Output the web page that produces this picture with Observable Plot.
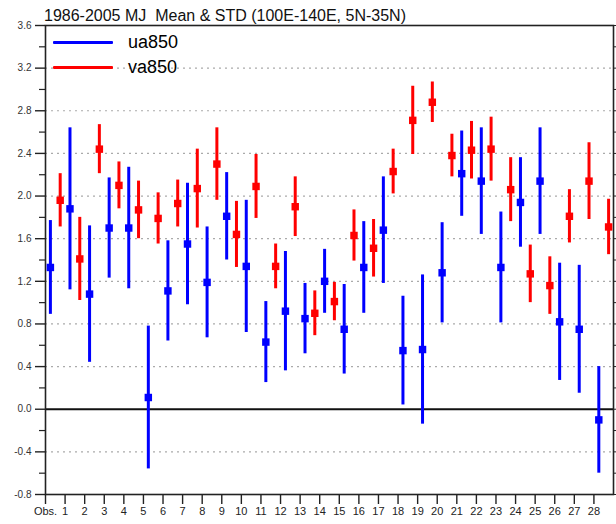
<!DOCTYPE html>
<html>
<head>
<meta charset="utf-8">
<script src="https://cdn.jsdelivr.net/npm/d3@7"></script>
<script src="https://cdn.jsdelivr.net/npm/@observablehq/plot@0.6"></script>
<style>
  body { margin: 0; background: #fff; }
  #wrap { position: relative; width: 616px; height: 524px; }
  .ttl { position: absolute; left: 44px; top: 7px; font-family: "Liberation Sans", Arial, Helvetica, sans-serif; font-size: 16px; line-height: 17px; color: #111; white-space: pre; }
  .leg { position: absolute; font-family: "Liberation Sans", Arial, Helvetica, sans-serif; font-size: 18px; color: #000; }
  .leg .row { position: relative; height: 25px; }
  .leg .sw { position: absolute; left: 0; top: 11px; width: 60px; height: 3px; border-radius: 1px; }
  .leg .lab { position: absolute; left: 75px; top: 2px; line-height: 20px; }
</style>
</head>
<body>
<div id="wrap"></div>
<script>
// ---- data ----
const models = ["Obs.", "1", "2", "3", "4", "5", "6", "7", "8", "9", "10", "11", "12", "13", "14",
  "15", "16", "17", "18", "19", "20", "21", "22", "23", "24", "25", "26", "27", "28"];

const uaMean = [1.33, 1.88, 1.08, 1.70, 1.70, 0.11, 1.11, 1.55, 1.19, 1.81, 1.34, 0.63, 0.92, 0.85, 1.20,
  0.75, 1.33, 1.68, 0.55, 0.56, 1.28, 2.21, 2.14, 1.33, 1.94, 2.14, 0.82, 0.75, -0.10];
const uaStd = [0.44, 0.76, 0.64, 0.47, 0.57, 0.67, 0.47, 0.57, 0.52, 0.41, 0.62, 0.38, 0.56, 0.33, 0.30,
  0.42, 0.43, 0.50, 0.51, 0.70, 0.47, 0.40, 0.50, 0.52, 0.42, 0.50, 0.55, 0.60, 0.50];

const vaMean = [1.96, 1.41, 2.44, 2.10, 1.87, 1.79, 1.93, 2.07, 2.30, 1.64, 2.09, 1.34, 1.90, 0.90, 1.01,
  1.63, 1.51, 2.23, 2.71, 2.88, 2.38, 2.43, 2.44, 2.06, 1.27, 1.16, 1.81, 2.14, 1.71];
const vaStd = [0.25, 0.39, 0.23, 0.22, 0.27, 0.24, 0.22, 0.37, 0.34, 0.31, 0.30, 0.21, 0.28, 0.21, 0.18,
  0.24, 0.27, 0.21, 0.32, 0.19, 0.20, 0.27, 0.30, 0.30, 0.27, 0.27, 0.25, 0.36, 0.26];

const seriesNames = ["ua850", "va850"];
const seriesColors = ["#0000ff", "#ff0000"];
const title = "1986-2005 MJ  Mean & STD (100E-140E, 5N-35N)";

const yMajor = [-0.8, -0.4, 0.0, 0.4, 0.8, 1.2, 1.6, 2.0, 2.4, 2.8, 3.2, 3.6];
const yMinor = [-0.6, -0.2, 0.2, 0.6, 1.0, 1.4, 1.8, 2.2, 2.6, 3.0, 3.4];
const yGrid = [-0.4, 0.4, 0.8, 1.2, 1.6, 2.0, 2.4, 2.8, 3.2];

// ---- table built from the arrays ----
const rows = [];
models.forEach((m, i) => {
  rows.push({series: seriesNames[0], x: i + 0.25, mean: uaMean[i], std: uaStd[i]});
  rows.push({series: seriesNames[1], x: i + 0.75, mean: vaMean[i], std: vaStd[i]});
});

const font = '"Liberation Sans", Arial, Helvetica, sans-serif';

const chart = Plot.plot({
  width: 616,
  height: 524,
  marginLeft: 45,
  marginRight: 3,
  marginTop: 25,
  marginBottom: 30,
  style: {fontFamily: font, fontSize: "11px", background: "#fff", color: "#000", overflow: "visible"},
  x: {domain: [0, models.length]},
  y: {domain: [-0.8, 3.6]},
  color: {domain: seriesNames, range: seriesColors},
  marks: [
    Plot.gridY(yGrid, {stroke: "#aaaaaa", strokeOpacity: 1, strokeWidth: 1.2, strokeDasharray: "2,4"}),
    Plot.ruleY([0], {stroke: "#111", strokeWidth: 2}),
    Plot.axisY(yMajor, {tickSize: 10, tickPadding: 4, tickFormat: d => d.toFixed(1), fontSize: 10, fill: "#333", stroke: "#222", strokeWidth: 1.4, label: null}),
    Plot.axisY(yMinor, {tickSize: 6, text: null, stroke: "#222", strokeWidth: 1.2, label: null}),
    Plot.axisY([...yMajor, ...yMinor], {anchor: "right", tickSize: 3, text: null, stroke: "#222", label: null}),
    Plot.axisX(d3.range(models.length), {tickSize: 10, tickPadding: 3, tickFormat: i => models[i], fontSize: 11, fill: "#222", stroke: "#222", strokeWidth: 1.4, label: null}),
    Plot.frame({stroke: "#222", strokeWidth: 1.6}),
    Plot.ruleX(rows, {x: "x", y1: d => d.mean - d.std, y2: d => d.mean + d.std, stroke: "series", strokeWidth: 3}),
    Plot.dot(rows, {x: "x", y: "mean", symbol: "square", r: 4.2, fill: "series", stroke: null})
  ]
});

const wrap = document.getElementById("wrap");
wrap.appendChild(chart);

// title above the frame
const ttl = document.createElement("div");
ttl.className = "ttl";
ttl.textContent = title;
wrap.appendChild(ttl);

// legend overlay (inside plot, top-left)
const leg = document.createElement("div");
leg.className = "leg";
leg.style.left = "53px";
leg.style.top = "30px";
seriesNames.forEach((name, i) => {
  const row = document.createElement("div");
  row.className = "row";
  const sw = document.createElement("div");
  sw.className = "sw";
  sw.style.background = seriesColors[i];
  const lab = document.createElement("div");
  lab.className = "lab";
  lab.textContent = name;
  row.appendChild(sw);
  row.appendChild(lab);
  leg.appendChild(row);
});
wrap.appendChild(leg);
</script>
</body>
</html>
